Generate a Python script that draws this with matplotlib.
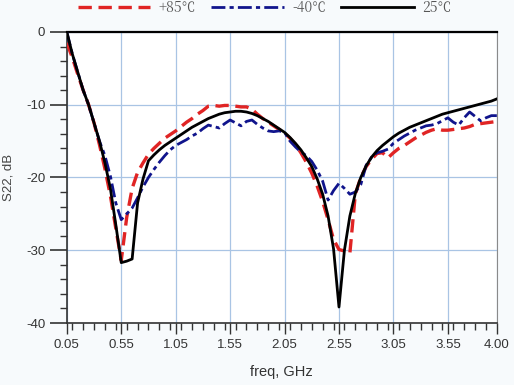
import numpy as np
import matplotlib.pyplot as plt
from matplotlib.ticker import MultipleLocator

# частотная сетка, ГГц
freq = np.round(np.arange(0.05, 4.001, 0.05), 2)

# S22 при +85
s22_p85 = [-1.5, -3.5, -5.8, -8.0, -10.0, -12.5, -15.5, -18.8, -22.5, -27.0,
           -31.4, -25.5, -21.5, -19.3, -18.0, -16.8, -16.0, -15.3, -14.6, -14.1,
           -13.6, -13.0, -12.4, -11.9, -11.3, -10.8, -10.2, -10.1, -10.2, -10.1,
           -10.1, -10.2, -10.3, -10.3, -10.6, -11.3, -11.9, -12.4, -12.9, -13.4,
           -13.9, -14.6, -15.5, -16.6, -17.9, -19.4, -21.2, -23.3, -25.8, -28.5,
           -29.9, -30.1, -30.4, -22.3, -20.0, -18.5, -17.5, -16.7, -16.6, -17.3,
           -16.6, -16.0, -15.6, -15.1, -14.6, -14.2, -13.8, -13.5, -13.3, -13.5,
           -13.5, -13.4, -13.3, -13.2, -13.0, -12.7, -12.6, -12.5, -12.4, -12.3]

# S22 при -40
s22_m40 = [0.0, -3.0, -5.5, -8.0, -10.0, -12.5, -15.0, -17.0, -19.8, -23.5,
           -25.8, -25.0, -24.2, -22.8, -21.3, -20.0, -18.9, -17.9, -17.0, -16.2,
           -15.6, -15.2, -14.8, -14.3, -13.9, -13.3, -12.8, -13.0, -13.2, -12.6,
           -12.1, -12.5, -12.9, -12.3, -12.1, -12.7, -13.2, -13.6, -13.7, -13.6,
           -13.8, -15.0, -15.8, -16.5, -17.0, -17.8, -19.0, -20.5, -23.1, -21.8,
           -20.8, -21.5, -22.3, -22.0, -21.0, -18.3, -17.2, -16.6, -16.4, -16.1,
           -15.3, -14.8, -14.3, -13.9, -13.5, -13.2, -12.9, -12.8, -12.6, -12.2,
           -11.8, -12.4, -12.8, -11.8, -11.0, -11.6, -12.2, -11.8, -11.5, -11.5]

# S22 при 25
s22_25 = [0.0, -3.0, -5.5, -8.0, -10.0, -12.5, -15.0, -18.0, -21.5, -26.5,
          -31.7, -31.5, -31.2, -23.5, -20.2, -17.7, -16.9, -16.2, -15.6, -15.1,
          -14.6, -14.1, -13.6, -13.1, -12.7, -12.3, -11.9, -11.6, -11.3, -11.1,
          -11.0, -10.9, -10.9, -11.0, -11.2, -11.5, -11.9, -12.3, -12.8, -13.3,
          -13.8, -14.5, -15.3, -16.2, -17.3, -18.5, -20.2, -22.3, -25.3, -29.8,
          -37.8, -30.0, -25.3, -22.2, -20.0, -18.4, -17.2, -16.3, -15.6, -15.0,
          -14.4, -13.9, -13.5, -13.1, -12.8, -12.5, -12.2, -11.9, -11.6, -11.3,
          -11.1, -10.9, -10.7, -10.5, -10.3, -10.1, -9.9, -9.7, -9.5, -9.2]

xticks = [0.05, 0.55, 1.05, 1.55, 2.05, 2.55, 3.05, 3.55, 4.00]
xtick_labels = ['0.05', '0.55', '1.05', '1.55', '2.05', '2.55', '3.05', '3.55', '4.00']
yticks = [0, -10, -20, -30, -40]

plt.rcParams['font.family'] = ['Liberation Sans', 'DejaVu Sans']
plt.rcParams['axes.unicode_minus'] = False

fig = plt.figure(figsize=(5.14, 3.85), dpi=100)
fig.patch.set_facecolor('#f7fafc')
ax = fig.add_axes([0.130, 0.161, 0.8366, 0.756])
ax.set_facecolor('white')

l1, = ax.plot(freq, s22_p85, color='#e02424', lw=2.4, ls=(0, (4, 2)), zorder=3)
l2, = ax.plot(freq, s22_m40, color='#10148c', lw=2.0, ls=(0, (5, 1.5, 1.5, 1.5)), zorder=3)
l3, = ax.plot(freq, s22_25, color='black', lw=2.0, zorder=4)

ax.set_xlim(0.05, 4.0)
ax.set_ylim(-40, 0)
ax.set_xticks(xticks)
ax.set_xticklabels(xtick_labels)
ax.set_yticks(yticks)
ax.xaxis.set_minor_locator(MultipleLocator(0.1))
ax.yaxis.set_minor_locator(MultipleLocator(2))
ax.tick_params(axis='both', which='major', labelsize=9.5, labelcolor='#333333',
               color='#333333', direction='out')
ax.tick_params(axis='y', which='major', length=12, width=1.2)
ax.tick_params(axis='x', which='major', length=8, width=1.0)
ax.tick_params(axis='both', which='minor', length=5, width=1.0, color='#333333',
               direction='out')

ax.grid(True, which='major', color='#a9c4e4', lw=0.9)
ax.set_axisbelow(True)

ax.spines['top'].set_color('black')
ax.spines['top'].set_linewidth(1.6)
ax.spines['right'].set_color('#8a8a8a')
ax.spines['left'].set_color('#333333')
ax.spines['bottom'].set_color('#333333')
ax.spines['left'].set_linewidth(1.2)
ax.spines['bottom'].set_linewidth(1.2)

ax.set_xlabel('freq, GHz', fontsize=10.5, color='#333333', labelpad=10)
ax.set_ylabel('S22, dB', fontsize=9.5, color='#444444', labelpad=8)

fig.legend([l1, l2, l3], ['+85℃', '-40℃', '25℃'], ncol=3, loc='center',
           bbox_to_anchor=(0.515, 0.98), frameon=False, handlelength=5.2,
           columnspacing=1.1, handletextpad=0.6,
           prop={'family': ['Noto Serif CJK SC', 'Noto Sans CJK SC', 'DejaVu Serif'], 'size': 10},
           labelcolor='#555555')

fig.savefig('out.png', dpi=100, facecolor=fig.get_facecolor())
